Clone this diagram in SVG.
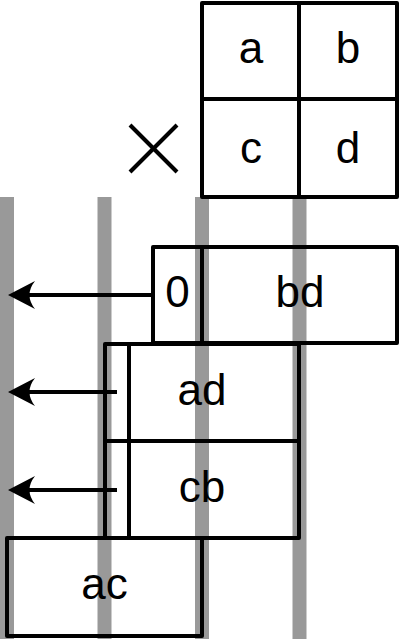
<svg xmlns="http://www.w3.org/2000/svg" width="400" height="639" viewBox="0 0 400 639">
<style>
.bar{fill:#999999}
.box{fill:none;stroke:#000;stroke-width:4;stroke-linejoin:round;stroke-linecap:round}
.ln{fill:none;stroke:#000;stroke-width:4}
text{font-family:"Liberation Sans",Arial,sans-serif;font-size:44px;fill:#000;text-anchor:middle}
</style>
<defs>
<marker id="ah" markerUnits="userSpaceOnUse" markerWidth="30" markerHeight="30" viewBox="0 0 30 30" refX="29" refY="15" orient="auto">
<path d="M29,15 L2,1 Q13,15 2,29 Z" fill="#000"/>
</marker>
</defs>
<g id="bars">
<rect class="bar" x="0" y="197" width="14" height="442"/>
<rect class="bar" x="97.5" y="197" width="14" height="442"/>
<rect class="bar" x="195" y="197" width="14" height="442"/>
<rect class="bar" x="292.5" y="197" width="14" height="442"/>
</g>
<g id="matrix">
<rect class="box" x="202" y="3" width="195" height="194"/>
<line class="ln" x1="299" y1="3" x2="299" y2="197"/>
<line class="ln" x1="202" y1="99" x2="397" y2="99"/>
<text x="251" y="63">a</text>
<text x="348" y="63">b</text>
<text x="251" y="163">c</text>
<text x="348" y="163">d</text>
</g>
<g id="times">
<line class="ln" x1="130" y1="125" x2="177" y2="172"/>
<line class="ln" x1="177" y1="125" x2="130" y2="172"/>
</g>
<g id="row-bd">
<rect class="box" x="153" y="247" width="244" height="96"/>
<line class="ln" x1="202" y1="247" x2="202" y2="343"/>
<text x="177.5" y="307">0</text>
<text x="300" y="307">bd</text>
</g>
<g id="row-ad">
<rect class="box" x="105" y="344" width="194" height="97"/>
<line class="ln" x1="129" y1="344" x2="129" y2="441"/>
<text x="202" y="405">ad</text>
</g>
<g id="row-cb">
<rect class="box" x="105" y="441" width="194" height="97"/>
<line class="ln" x1="129" y1="441" x2="129" y2="538"/>
<text x="202" y="502">cb</text>
</g>
<g id="row-ac">
<rect class="box" x="7" y="538" width="195" height="98"/>
<text x="104.5" y="599">ac</text>
</g>
<g id="connectors">
<line class="ln" x1="153" y1="295" x2="22" y2="295"/>
<path d="M8,295 L35,281 Q24,295 35,309 Z" fill="#000"/>
<line class="ln" x1="117" y1="392" x2="22" y2="392"/>
<path d="M8,392 L35,378 Q24,392 35,406 Z" fill="#000"/>
<line class="ln" x1="117" y1="490" x2="22" y2="490"/>
<path d="M8,490 L35,476 Q24,490 35,504 Z" fill="#000"/>
</g>
</svg>
